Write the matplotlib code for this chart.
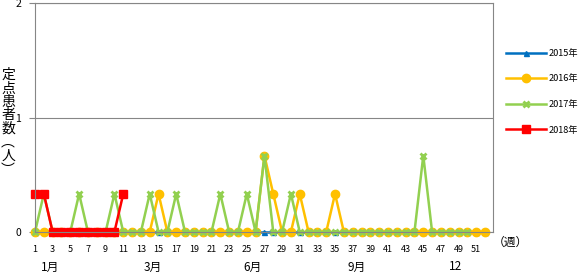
import matplotlib.pyplot as plt
from matplotlib.lines import Line2D
from matplotlib.transforms import blended_transform_factory

plt.rcParams['font.family'] = ['Noto Sans CJK JP', 'DejaVu Sans']

weeks = list(range(1, 53))
week_ticks = list(range(1, 53, 2))

y2015 = [0] * 52
y2016 = [0, 0, 0, 0, 0, 0, 0, 0, 0, 0,
         0, 0, 0, 0, 0.333, 0, 0, 0, 0, 0,
         0, 0, 0, 0, 0, 0, 0.667, 0.333, 0, 0,
         0.333, 0, 0, 0, 0.333, 0, 0, 0, 0, 0,
         0, 0, 0, 0, 0, 0, 0, 0, 0, 0,
         0, 0]
y2017 = [0, 0.333, 0, 0, 0, 0.333, 0, 0, 0, 0.333,
         0, 0, 0, 0.333, 0, 0, 0.333, 0, 0, 0,
         0, 0.333, 0, 0, 0.333, 0, 0.667, 0, 0, 0.333,
         0, 0, 0, 0, 0, 0, 0, 0, 0, 0,
         0, 0, 0, 0, 0.667, 0, 0, 0, 0, 0]
y2018 = [0.333, 0.333, 0, 0, 0, 0, 0, 0, 0, 0, 0.333]

series = [
    ('2015年', y2015, '#0070C0', '^', 3.6, 1.0),
    ('2016年', y2016, '#FFC000', 'o', 6.0, 1.0),
    ('2017年', y2017, '#92D050', 'x', 4.5, 2.0),
    ('2018年', y2018, '#FF0000', 's', 5.2, 1.0),
]

months = ['1月', '3月', '6月', '9月', '12']
month_pos = [2.7, 14.4, 25.7, 37.4, 48.7]

fig = plt.figure(figsize=(5.81, 2.73), dpi=100)
ax = fig.add_axes([35 / 581, 1 - 232 / 273, (493 - 35) / 581, (232 - 3) / 273])

handles = []
for label, vals, color, marker, ms, mew in series:
    ax.plot(weeks[:len(vals)], vals, color=color, lw=1.8, marker=marker,
            ms=ms, mew=mew, mec=color, mfc=color, clip_on=False)
    handles.append(Line2D([], [], color=color, lw=1.8, marker=marker,
                          ms=ms, mew=mew, mec=color, mfc=color, label=label))

ax.set_xlim(1, 52.9)
ax.set_ylim(0, 2)
ax.set_yticks([0, 1, 2])
ax.set_xticks(week_ticks)
ax.tick_params(axis='x', length=0, labelsize=6.5, pad=9)
ax.tick_params(axis='y', length=4, color='#868686', labelsize=7.5, pad=6)
ax.grid(axis='y', color='#868686', lw=0.8)
for s in ax.spines.values():
    s.set_color('#868686')
    s.set_linewidth(0.8)

trans = blended_transform_factory(ax.transData, fig.transFigure)
for m, p in zip(months, month_pos):
    ax.text(p, 1 - 267 / 273, m, transform=trans, ha='center', va='center',
            fontsize=8.5)

fig.text(510 / 581, 1 - 242 / 273, '（週）', ha='center', va='center', fontsize=8.5)

ylab = ['定', '点', '患', '者', '数', '︵', '人', '︶']
for i, ch in enumerate(ylab):
    fig.text(8 / 581, 1 - (75 + i * 13.5) / 273, ch, ha='center', va='center',
             fontsize=10)

fig.legend(handles=handles, loc='upper left',
           bbox_to_anchor=(506 / 581, 1 - 49 / 273), frameon=False,
           fontsize=6.6, handlelength=4.4, handletextpad=0.25,
           labelspacing=1.8, borderaxespad=0, borderpad=0)

fig.savefig('out.png', dpi=100)
